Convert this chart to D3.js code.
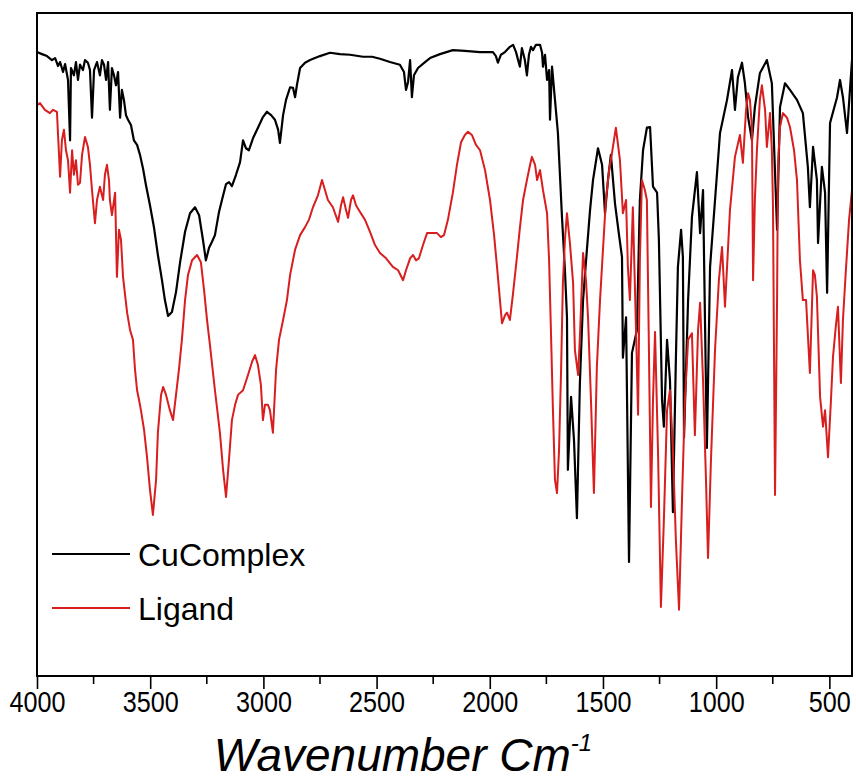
<!DOCTYPE html>
<html>
<head>
<meta charset="utf-8">
<script src="https://cdnjs.cloudflare.com/ajax/libs/d3/7.8.5/d3.min.js"></script>
<style>
    body { margin: 0; background: #fff; }
    #chart { width: 856px; height: 783px; }
    text { font-family: "Liberation Sans", Arial, sans-serif; }
</style>
</head>
<body>
<div id="chart"></div>
<script>

// wavenumber (cm-1), transmittance (arbitrary %)
const cuComplex = [
    [4000,94.1],[3978,93.8],[3956,93.5],[3934,92.9],[3920,93.2],[3907,92.0],[3898,92.6],[3885,91.1],
    [3876,92.3],[3863,89.9],[3854,80.8],[3850,91.7],[3837,90.6],[3828,92.6],[3819,89.9],[3810,92.2],
    [3797,91.4],[3788,92.9],[3775,92.5],[3766,91.4],[3757,84.2],[3748,91.4],[3735,92.6],[3722,90.6],
    [3713,92.9],[3704,92.2],[3695,89.9],[3686,92.6],[3678,85.4],[3669,91.7],[3660,90.6],[3651,89.1],
    [3642,91.1],[3633,84.2],[3625,88.4],[3616,86.9],[3607,84.6],[3598,83.9],[3585,83.1],[3572,80.8],
    [3558,80.1],[3545,78.6],[3532,76.6],[3519,74.1],[3501,71.0],[3483,67.6],[3466,63.5],[3448,59.7],
    [3435,56.7],[3421,54.3],[3404,54.9],[3386,57.9],[3368,62.4],[3346,67.0],[3324,69.8],[3302,70.7],
    [3284,69.5],[3267,65.8],[3254,62.7],[3240,64.6],[3227,65.5],[3214,66.5],[3196,70.0],[3183,71.8],
    [3165,74.2],[3152,74.5],[3139,73.9],[3121,75.6],[3103,77.5],[3090,80.8],[3077,79.6],[3064,79.3],
    [3046,81.1],[3024,82.7],[3002,84.3],[2984,85.1],[2966,84.6],[2949,83.9],[2935,82.4],[2927,80.4],
    [2913,84.6],[2900,86.9],[2882,88.8],[2869,88.7],[2860,87.3],[2852,89.1],[2838,91.7],[2816,92.5],
    [2794,92.9],[2750,93.5],[2706,94.0],[2662,93.8],[2617,93.7],[2560,93.4],[2520,93.4],[2485,93.1],
    [2441,92.6],[2397,92.2],[2379,91.1],[2370,88.4],[2361,89.6],[2352,92.9],[2344,87.3],[2335,90.6],
    [2317,91.7],[2286,92.6],[2264,93.2],[2220,93.8],[2163,94.4],[2110,94.3],[2043,94.1],[1986,94.1],
    [1973,93.5],[1964,92.5],[1951,93.7],[1933,94.1],[1911,94.9],[1897,95.2],[1884,94.1],[1875,92.9],
    [1867,91.9],[1858,94.7],[1845,92.9],[1836,90.6],[1827,93.7],[1818,94.9],[1809,94.4],[1796,95.2],
    [1778,95.2],[1769,94.0],[1765,91.9],[1756,93.7],[1747,89.9],[1738,91.4],[1734,83.9],[1725,91.9],
    [1712,86.9],[1699,81.9],[1681,69.2],[1668,61.2],[1659,54.1],[1655,31.1],[1641,42.1],[1628,35.6],
    [1615,23.8],[1602,44.2],[1588,56.7],[1571,64.3],[1557,70.3],[1544,74.8],[1522,79.6],[1504,77.1],
    [1491,69.8],[1478,74.8],[1465,78.6],[1447,71.3],[1429,66.5],[1416,63.2],[1412,48.0],[1398,54.1],
    [1385,17.2],[1372,48.7],[1350,52.2],[1337,71.8],[1323,79.3],[1306,82.7],[1292,82.8],[1279,73.8],
    [1261,72.9],[1253,65.8],[1239,41.6],[1231,37.6],[1217,50.7],[1204,44.6],[1191,24.7],[1178,47.7],
    [1169,61.7],[1155,67.3],[1147,63.2],[1142,36.0],[1124,56.7],[1107,69.2],[1085,76.0],[1071,66.8],
    [1058,73.3],[1041,34.4],[1027,61.7],[1005,71.8],[983,81.9],[952,86.9],[930,91.4],[917,85.4],
    [904,90.3],[886,92.5],[873,89.4],[859,84.3],[842,80.8],[829,85.8],[807,90.9],[776,92.9],
    [754,89.4],[740,75.9],[731,67.3],[718,85.8],[696,89.4],[674,88.4],[643,86.9],[617,84.9],
    [595,76.8],[586,70.7],[572,79.8],[555,74.8],[550,65.3],[533,76.8],[519,72.9],[510,57.8],
    [497,83.4],[466,87.3],[453,89.9],[440,87.3],[422,81.9],[400,92.9]
];

const ligand = [
    [4000,86.1],[3987,86.4],[3965,85.4],[3943,84.9],[3929,85.4],[3912,85.1],[3898,75.3],[3890,80.8],
    [3881,82.4],[3872,79.3],[3863,77.8],[3854,72.9],[3845,79.3],[3837,75.6],[3828,77.8],[3819,74.1],
    [3810,74.4],[3801,78.6],[3788,81.3],[3775,79.8],[3766,77.1],[3757,73.3],[3744,68.3],[3735,71.8],
    [3722,73.8],[3708,71.8],[3700,75.6],[3691,77.1],[3682,74.8],[3678,71.8],[3669,69.5],[3655,72.9],
    [3647,60.2],[3638,67.3],[3629,65.8],[3620,60.2],[3611,57.5],[3602,54.8],[3589,52.2],[3576,50.7],
    [3567,46.2],[3558,43.1],[3549,41.6],[3541,40.1],[3527,37.1],[3514,33.0],[3501,28.1],[3488,24.3],
    [3474,29.6],[3466,36.7],[3452,42.4],[3443,43.6],[3430,42.4],[3413,40.1],[3399,38.6],[3386,42.4],
    [3373,46.2],[3360,50.7],[3346,56.7],[3333,60.5],[3315,62.7],[3293,63.5],[3276,62.4],[3262,58.2],
    [3249,53.7],[3236,49.9],[3214,43.1],[3192,36.7],[3178,31.1],[3165,27.0],[3152,32.6],[3139,38.6],
    [3125,40.9],[3112,42.4],[3090,43.1],[3068,45.4],[3050,47.4],[3037,48.4],[3024,46.9],[3011,43.9],
    [3002,38.6],[2993,40.9],[2980,40.9],[2971,40.1],[2958,36.7],[2944,46.2],[2931,50.7],[2913,53.7],
    [2896,56.7],[2882,60.5],[2860,64.3],[2838,66.5],[2816,67.7],[2799,68.8],[2781,70.7],[2759,72.5],
    [2741,74.8],[2728,73.3],[2715,71.8],[2693,70.7],[2670,68.5],[2657,71.0],[2648,72.2],[2635,70.3],
    [2626,69.1],[2613,71.8],[2604,72.5],[2591,71.0],[2573,70.0],[2551,68.8],[2529,67.0],[2507,65.0],
    [2485,63.8],[2458,63.0],[2428,61.7],[2405,61.2],[2383,59.7],[2370,61.2],[2352,63.0],[2339,63.5],
    [2326,62.7],[2313,63.0],[2295,65.0],[2277,66.8],[2255,66.8],[2233,66.8],[2216,66.2],[2202,66.5],
    [2185,68.8],[2163,72.9],[2145,77.1],[2127,80.5],[2110,81.6],[2096,82.1],[2079,81.6],[2061,80.1],
    [2043,79.3],[2021,76.3],[1999,71.8],[1981,66.5],[1968,61.7],[1955,56.7],[1946,53.2],[1933,54.4],
    [1924,54.8],[1911,53.7],[1898,57.5],[1880,63.2],[1867,67.6],[1853,71.8],[1836,74.8],[1822,77.1],
    [1814,78.3],[1800,77.1],[1791,74.8],[1778,76.3],[1765,73.3],[1747,69.8],[1738,62.7],[1730,52.2],
    [1721,40.1],[1712,29.6],[1703,27.6],[1694,34.1],[1685,46.2],[1677,59.3],[1668,65.8],[1659,69.8],
    [1646,65.3],[1632,59.3],[1624,49.2],[1610,45.4],[1602,51.1],[1588,63.8],[1575,59.7],[1566,54.1],
    [1553,41.6],[1540,27.6],[1527,46.6],[1513,56.7],[1500,64.3],[1487,71.8],[1473,76.3],[1460,78.9],
    [1443,82.7],[1425,77.8],[1412,69.8],[1398,71.8],[1390,61.7],[1381,56.7],[1368,70.7],[1354,52.2],
    [1345,39.4],[1337,62.7],[1328,74.8],[1315,73.3],[1306,71.8],[1297,49.2],[1288,25.5],[1279,41.6],
    [1270,51.9],[1257,34.1],[1244,10.4],[1231,23.5],[1217,40.1],[1204,43.1],[1191,34.1],[1178,20.5],
    [1164,10.0],[1151,26.5],[1138,41.6],[1124,50.7],[1107,51.7],[1094,36.3],[1080,52.2],[1071,56.3],
    [1058,44.6],[1045,29.6],[1036,17.8],[1023,32.6],[1005,49.2],[988,59.7],[974,64.7],[961,55.7],
    [948,64.3],[939,70.3],[917,78.3],[895,81.6],[882,77.4],[868,85.4],[859,87.9],[851,86.9],
    [842,82.8],[837,59.7],[829,71.8],[820,79.3],[807,86.9],[798,89.1],[784,85.4],[776,79.8],
    [762,84.9],[754,79.3],[749,70.7],[740,27.3],[731,56.7],[727,76.8],[718,82.8],[705,84.9],
    [687,84.2],[674,82.8],[656,79.3],[643,74.8],[630,62.7],[617,56.7],[603,56.7],[586,45.7],
    [572,61.2],[564,60.5],[555,57.2],[541,42.1],[528,37.6],[519,40.1],[506,33.0],[493,41.6],
    [484,48.1],[471,52.9],[462,55.7],[449,44.2],[440,53.7],[427,61.2],[413,68.8],[400,73.3]
];

const seriesNames = ["CuComplex", "Ligand"];
const seriesColors = ["#000000", "#d81e1e"];
const xMajorTicks = [4000, 3500, 3000, 2500, 2000, 1500, 1000, 500];
const xMinorTicks = [3750, 3250, 2750, 2250, 1750, 1250, 750];
const xDomain = [4000, 400];
const yDomain = [0, 100];


class SpectrumVis {

    constructor(parentElement, series) {
        this.parentElement = parentElement;
        this.series = series;
        this.initVis();
    }

    initVis() {
        let vis = this;

        vis.margin = {top: 13, right: 4, bottom: 107, left: 37};
        vis.width = 856 - vis.margin.left - vis.margin.right;
        vis.height = 783 - vis.margin.top - vis.margin.bottom;

        vis.svg = d3.select("#" + vis.parentElement).append("svg")
            .attr("width", 856)
            .attr("height", 783)
            .append("g")
            .attr("transform", `translate(${vis.margin.left},${vis.margin.top})`);

        vis.x = d3.scaleLinear().domain(xDomain).range([0, vis.width]);
        vis.y = d3.scaleLinear().domain(yDomain).range([vis.height, 0]);

        vis.line = d3.line()
            .x(d => vis.x(d[0]))
            .y(d => vis.y(d[1]));

        // clip so the spectra stay inside the frame
        vis.svg.append("clipPath").attr("id", "plot-clip")
            .append("rect")
            .attr("width", vis.width)
            .attr("height", vis.height);

        vis.updateVis();
    }

    updateVis() {
        let vis = this;

        vis.svg.append("g")
            .attr("clip-path", "url(#plot-clip)")
            .selectAll(".spectrum")
            .data(vis.series)
            .enter().append("path")
            .attr("class", "spectrum")
            .attr("d", d => vis.line(d.values))
            .attr("fill", "none")
            .attr("stroke", d => d.color)
            .attr("stroke-width", d => d.width)
            .attr("stroke-linejoin", "round");

        // frame
        vis.svg.append("rect")
            .attr("width", vis.width)
            .attr("height", vis.height)
            .attr("fill", "none")
            .attr("stroke", "#000")
            .attr("stroke-width", 2);

        // bottom axis, major + minor ticks
        vis.xAxis = d3.axisBottom(vis.x)
            .tickValues(xMajorTicks)
            .tickFormat(d3.format("d"))
            .tickSize(13)
            .tickSizeOuter(0);

        vis.xAxisGroup = vis.svg.append("g")
            .attr("class", "x-axis")
            .attr("transform", `translate(0,${vis.height})`)
            .call(vis.xAxis);

        vis.xAxisGroup.select(".domain").remove();
        vis.xAxisGroup.selectAll("line").attr("stroke", "#000").attr("stroke-width", 1.6);
        vis.xAxisGroup.selectAll("text")
            .attr("fill", "#000")
            .attr("y", 0)
            .attr("dy", 0)
            .attr("x", 0)
            .style("font-size", "30px")
            .attr("transform", "translate(0,36) scale(0.84,1)");

        vis.svg.append("g")
            .attr("transform", `translate(0,${vis.height})`)
            .selectAll(".minor")
            .data(xMinorTicks)
            .enter().append("line")
            .attr("class", "minor")
            .attr("x1", d => vis.x(d))
            .attr("x2", d => vis.x(d))
            .attr("y1", 0)
            .attr("y2", 8)
            .attr("stroke", "#000")
            .attr("stroke-width", 1.6);

        // axis title
        let title = vis.svg.append("text")
            .attr("x", 366)
            .attr("y", vis.height + 95)
            .attr("text-anchor", "middle")
            .style("font-size", "46px")
            .style("font-style", "italic");
        title.append("tspan").text("Wavenumber Cm");
        title.append("tspan").text("-1")
            .attr("dy", -20)
            .style("font-size", "24px");

        // legend
        let legend = vis.svg.selectAll(".legend")
            .data(vis.series)
            .enter().append("g")
            .attr("class", "legend")
            .attr("transform", (d, i) => `translate(15,${541 + i * 54})`);

        legend.append("line")
            .attr("x1", 0)
            .attr("x2", 78)
            .attr("stroke", d => d.color)
            .attr("stroke-width", 2.2);

        legend.append("text")
            .attr("x", 86)
            .attr("y", 12)
            .style("font-size", "32px")
            .text(d => d.name);
    }
}

let spectra = [
    {name: seriesNames[0], color: seriesColors[0], width: 2.2, values: cuComplex},
    {name: seriesNames[1], color: seriesColors[1], width: 2, values: ligand}
];

new SpectrumVis("chart", spectra);

</script>
</body>
</html>
